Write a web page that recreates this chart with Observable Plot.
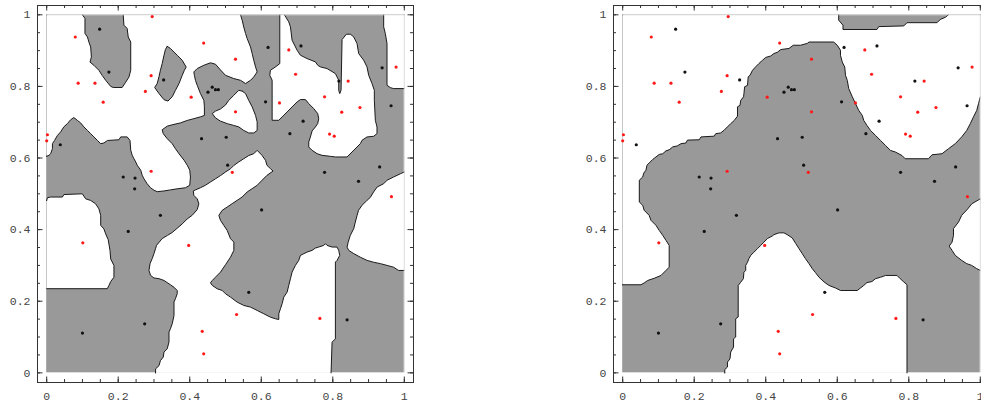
<!DOCTYPE html>
<html><head><meta charset="utf-8">
<script src="https://cdn.jsdelivr.net/npm/d3@7"></script>
<script src="https://cdn.jsdelivr.net/npm/@observablehq/plot@0.6"></script>
<style>
html,body{margin:0;padding:0;background:#fff;overflow:hidden;}
#wrap{position:relative;width:981px;height:402px;overflow:hidden;}
#wrap > div{position:absolute;top:0;width:490px;height:402px;}
#wrap svg{max-width:none !important;}
#p1{left:0;} #p2{left:576px;}
</style></head><body><div id="wrap"><div id="p1"></div><div id="p2"></div></div>
<script>
// ---- data: observations (same in both panels) ----
const blackPts = [[0.148,0.96],[0.174,0.84],[0.327,0.818],[0.463,0.798],[0.451,0.784],[0.472,0.791],[0.480,0.791],[0.038,0.637],[0.433,0.654],[0.502,0.658],[0.506,0.580],[0.214,0.547],[0.247,0.544],[0.246,0.514],[0.619,0.909],[0.711,0.913],[0.817,0.815],[0.938,0.852],[0.963,0.746],[0.612,0.757],[0.717,0.703],[0.680,0.668],[0.777,0.560],[0.931,0.575],[0.872,0.535],[0.318,0.440],[0.228,0.395],[0.274,0.137],[0.100,0.111],[0.601,0.455],[0.565,0.225],[0.840,0.148]];
const redPts = [[0.295,0.995],[0.080,0.938],[0.439,0.921],[0.292,0.830],[0.088,0.809],[0.135,0.809],[0.276,0.786],[0.404,0.770],[0.158,0.756],[0.002,0.665],[0.0,0.648],[0.292,0.563],[0.528,0.876],[0.677,0.902],[0.696,0.834],[0.843,0.815],[0.977,0.854],[0.651,0.754],[0.528,0.729],[0.777,0.771],[0.825,0.728],[0.876,0.741],[0.791,0.667],[0.804,0.661],[0.519,0.560],[0.964,0.492],[0.101,0.363],[0.397,0.356],[0.435,0.116],[0.439,0.053],[0.531,0.163],[0.764,0.152]];

// ---- ticks ----
const tickValues = [0,0.2,0.4,0.6,0.8,1];
const tickLabels = ["0","0.2","0.4","0.6","0.8","1"];
const minorTicks = [0,0.05,0.1,0.15,0.2,0.25,0.3,0.35,0.4,0.45,0.5,0.55,0.6,0.65,0.7,0.75,0.8,0.85,0.9,0.95,1];
const unit = [0,1];

// ---- left panel: white regions (drawn over a grey unit square) ----
const leftW1 = [[0,0.605],[0.0065,0.6075],[0.011,0.612],[0.016,0.626],[0.016,0.640],[0.022,0.649],[0.030,0.663],[0.039,0.673],[0.048,0.687],[0.058,0.696],[0.067,0.707],[0.076,0.713],[0.086,0.705],[0.095,0.698],[0.104,0.687],[0.114,0.677],[0.123,0.668],[0.132,0.659],[0.142,0.649],[0.151,0.640],[0.160,0.642],[0.170,0.649],[0.202,0.651],[0.207,0.659],[0.225,0.659],[0.233,0.649],[0.235,0.622],[0.239,0.608],[0.244,0.598],[0.249,0.589],[0.253,0.580],[0.263,0.566],[0.267,0.552],[0.272,0.542],[0.281,0.528],[0.2905,0.517],[0.300,0.510],[0.309,0.506],[0.328,0.508],[0.346,0.511],[0.365,0.514],[0.388,0.517],[0.400,0.524],[0.402,0.547],[0.400,0.566],[0.393,0.580],[0.384,0.594],[0.370,0.612],[0.360,0.626],[0.351,0.640],[0.337,0.654],[0.326,0.668],[0.323,0.679],[0.337,0.689],[0.356,0.694],[0.374,0.698],[0.393,0.705],[0.412,0.710],[0.430,0.715],[0.441,0.719],[0.441,0.743],[0.4395,0.761],[0.430,0.780],[0.421,0.803],[0.416,0.817],[0.413,0.831],[0.4115,0.8405],[0.421,0.850],[0.4395,0.859],[0.458,0.866],[0.472,0.862],[0.486,0.846],[0.500,0.831],[0.523,0.822],[0.542,0.817],[0.556,0.808],[0.570,0.817],[0.579,0.8265],[0.5885,0.8405],[0.584,0.8545],[0.579,0.873],[0.5745,0.892],[0.570,0.910],[0.5605,0.934],[0.556,0.948],[0.551,0.966],[0.5466,0.985],[0.542,1],[0,1]];
const leftW2 = [[0.5465,0.787],[0.556,0.780],[0.565,0.761],[0.5745,0.743],[0.584,0.719],[0.5885,0.701],[0.5885,0.677],[0.579,0.670],[0.565,0.670],[0.551,0.677],[0.537,0.687],[0.523,0.691],[0.505,0.696],[0.486,0.703],[0.472,0.712],[0.463,0.724],[0.472,0.731],[0.486,0.737],[0.500,0.748],[0.509,0.761],[0.523,0.775],[0.537,0.789]];
const leftW3 = [[0.6518,1],[0.6518,0.8637],[0.6397,0.8545],[0.6257,0.8451],[0.6238,0.8312],[0.6304,0.8172],[0.6304,0.7054],[0.6490,0.7054],[0.6583,0.7147],[0.6723,0.7287],[0.6862,0.7427],[0.7002,0.7566],[0.7095,0.7632],[0.7235,0.7632],[0.7328,0.752],[0.7467,0.738],[0.7579,0.724],[0.7607,0.7101],[0.7579,0.6961],[0.7514,0.6868],[0.7421,0.6756],[0.7374,0.6588],[0.7328,0.6448],[0.7328,0.6308],[0.7421,0.6215],[0.7561,0.6122],[0.7700,0.6075],[0.7933,0.6047],[0.8073,0.6029],[0.8399,0.6029],[0.8538,0.6168],[0.8678,0.6308],[0.8771,0.6401],[0.8818,0.6495],[0.8957,0.6588],[0.9143,0.6607],[0.9236,0.6681],[0.9236,0.6868],[0.919,0.7054],[0.9162,0.7613],[0.9162,0.7893],[0.9097,0.8079],[0.9004,0.8312],[0.8957,0.8545],[0.8864,0.8731],[0.8724,0.8918],[0.8678,0.9197],[0.8585,0.9384],[0.8492,0.9458],[0.8380,0.9458],[0.8259,0.9309],[0.8231,0.7893],[0.8194,0.7799],[0.8166,0.7893],[0.8166,0.8172],[0.8073,0.8358],[0.7840,0.8498],[0.7654,0.8545],[0.7579,0.8591],[0.7514,0.8685],[0.7281,0.8778],[0.7095,0.8871],[0.7002,0.9011],[0.6862,0.9290],[0.6816,0.9663],[0.6769,0.9803],[0.6648,1]];
const leftW4 = [[0.9423,1],[0.9423,0.9664],[0.9469,0.9477],[0.9516,0.9197],[0.9516,0.8032],[0.9609,0.7967],[0.9702,0.7939],[1,0.7939],[1,1]];
const leftW5 = [[0,0.4815],[0.002,0.489],[0.011,0.491],[0.044,0.491],[0.048,0.498],[0.0996,0.500],[0.109,0.486],[0.123,0.4815],[0.137,0.472],[0.146,0.458],[0.151,0.440],[0.151,0.412],[0.160,0.402],[0.165,0.388],[0.172,0.372],[0.177,0.342],[0.179,0.318],[0.188,0.300],[0.188,0.267],[0.179,0.255],[0.174,0.244],[0.1695,0.235],[0,0.235]];
const leftW6 = [[0.3045,0],[0.3045,0.011],[0.314,0.020],[0.318,0.034],[0.326,0.044],[0.328,0.058],[0.337,0.067],[0.342,0.086],[0.342,0.114],[0.346,0.123],[0.351,0.137],[0.356,0.160],[0.356,0.198],[0.360,0.207],[0.365,0.221],[0.365,0.230],[0.356,0.239],[0.346,0.246],[0.337,0.252],[0.328,0.258],[0.314,0.263],[0.300,0.265],[0.2905,0.272],[0.286,0.286],[0.289,0.305],[0.295,0.319],[0.300,0.333],[0.3045,0.347],[0.307,0.356],[0.323,0.375],[0.338,0.384],[0.351,0.392],[0.365,0.404],[0.379,0.416],[0.393,0.430],[0.4069,0.440],[0.421,0.456],[0.4255,0.4723],[0.421,0.486],[0.4115,0.4956],[0.410,0.508],[0.416,0.511],[0.430,0.517],[0.444,0.524],[0.458,0.533],[0.472,0.542],[0.486,0.551],[0.500,0.561],[0.514,0.570],[0.523,0.579],[0.537,0.589],[0.551,0.598],[0.565,0.607],[0.579,0.612],[0.5885,0.6215],[0.602,0.6075],[0.612,0.5935],[0.616,0.5795],[0.626,0.570],[0.633,0.5637],[0.616,0.5516],[0.602,0.5376],[0.5885,0.5237],[0.5745,0.5144],[0.5605,0.5051],[0.5466,0.4911],[0.5326,0.4818],[0.5186,0.4725],[0.5047,0.4631],[0.4907,0.4538],[0.4814,0.4398],[0.486,0.4258],[0.4953,0.4118],[0.5047,0.3978],[0.514,0.3746],[0.5233,0.3653],[0.5233,0.342],[0.514,0.323],[0.500,0.302],[0.486,0.2813],[0.472,0.2673],[0.463,0.258],[0.458,0.2515],[0.463,0.2441],[0.4767,0.2348],[0.4907,0.2301],[0.5,0.2208],[0.514,0.2115],[0.5326,0.1975],[0.5512,0.1882],[0.5698,0.1836],[0.5885,0.1743],[0.6071,0.1649],[0.6257,0.1556],[0.6397,0.1509],[0.649,0.149],[0.649,0.1649],[0.6536,0.1789],[0.6583,0.1929],[0.6629,0.2115],[0.6723,0.2255],[0.6769,0.2441],[0.6816,0.2627],[0.6862,0.2814],[0.6955,0.300],[0.7048,0.314],[0.7095,0.328],[0.7188,0.3327],[0.7281,0.3373],[0.7421,0.342],[0.7514,0.3485],[0.7607,0.3513],[0.7747,0.356],[0.7793,0.3607],[0.784,0.356],[0.798,0.3513],[0.8119,0.3513],[0.8166,0.342],[0.8194,0.328],[0.8119,0.314],[0.8073,0.3094],[0.8073,0.095],[0.798,0.0857],[0.7952,0]];
const leftW7 = [[1,0.561],[0.989,0.556],[0.970,0.547],[0.952,0.538],[0.942,0.528],[0.924,0.519],[0.914,0.505],[0.905,0.490],[0.896,0.482],[0.882,0.468],[0.872,0.454],[0.868,0.440],[0.863,0.421],[0.8585,0.4025],[0.849,0.384],[0.843,0.365],[0.840,0.351],[0.8445,0.342],[0.8585,0.333],[0.877,0.323],[0.896,0.314],[0.914,0.309],[0.933,0.305],[0.952,0.300],[0.970,0.295],[0.984,0.286],[1,0.286]];
// left panel: grey islands inside the white
const leftG1 = [[0.100,1],[0.107,0.990],[0.107,0.948],[0.114,0.938],[0.118,0.924],[0.123,0.910],[0.125,0.882],[0.121,0.868],[0.132,0.859],[0.146,0.845],[0.155,0.831],[0.165,0.817],[0.179,0.800],[0.186,0.797],[0.211,0.797],[0.221,0.812],[0.230,0.826],[0.235,0.845],[0.235,0.924],[0.228,0.938],[0.225,0.962],[0.216,0.971],[0.214,1]];
const leftG2 = [[0.337,0.912],[0.346,0.906],[0.365,0.887],[0.379,0.873],[0.390,0.854],[0.385,0.845],[0.379,0.831],[0.370,0.808],[0.360,0.789],[0.351,0.771],[0.339,0.759],[0.328,0.763],[0.314,0.780],[0.302,0.797],[0.309,0.808],[0.314,0.827],[0.318,0.845],[0.323,0.864],[0.328,0.887],[0.332,0.903]];

// ---- right panel ----
const rightW1 = [[0,0.246],[0.051,0.246],[0.060,0.251],[0.070,0.258],[0.088,0.264],[0.107,0.272],[0.121,0.286],[0.130,0.295],[0.130,0.356],[0.121,0.370],[0.112,0.384],[0.102,0.398],[0.093,0.412],[0.079,0.426],[0.074,0.440],[0.060,0.454],[0.056,0.468],[0.0465,0.477],[0.0465,0.538],[0.056,0.547],[0.059,0.558],[0.065,0.566],[0.068,0.580],[0.074,0.586],[0.084,0.596],[0.093,0.603],[0.102,0.610],[0.112,0.612],[0.121,0.620],[0.130,0.623],[0.140,0.631],[0.153,0.634],[0.163,0.640],[0.177,0.642],[0.181,0.650],[0.214,0.651],[0.219,0.659],[0.256,0.661],[0.260,0.668],[0.274,0.670],[0.284,0.678],[0.293,0.687],[0.302,0.696],[0.312,0.705],[0.321,0.717],[0.321,0.743],[0.328,0.747],[0.330,0.761],[0.338,0.771],[0.339,0.780],[0.341,0.799],[0.349,0.803],[0.351,0.827],[0.356,0.831],[0.363,0.845],[0.372,0.855],[0.381,0.864],[0.391,0.873],[0.400,0.881],[0.414,0.885],[0.423,0.892],[0.432,0.895],[0.442,0.903],[0.465,0.906],[0.477,0.915],[0.497,0.915],[0.516,0.920],[0.521,0.924],[0.590,0.924],[0.600,0.915],[0.609,0.901],[0.609,0.887],[0.614,0.868],[0.621,0.854],[0.623,0.831],[0.628,0.817],[0.632,0.794],[0.642,0.771],[0.651,0.752],[0.660,0.733],[0.670,0.719],[0.674,0.705],[0.683,0.691],[0.693,0.677],[0.707,0.663],[0.721,0.649],[0.735,0.635],[0.749,0.621],[0.762,0.617],[0.781,0.607],[0.790,0.598],[0.855,0.598],[0.865,0.609],[0.893,0.612],[0.911,0.626],[0.930,0.640],[0.948,0.659],[0.962,0.677],[0.972,0.696],[0.981,0.715],[0.990,0.733],[0.995,0.752],[1,0.7705],[1,1],[0,1]];
const rightW2 = [[1,0.486],[0.976,0.472],[0.965,0.458],[0.948,0.440],[0.939,0.421],[0.925,0.403],[0.925,0.384],[0.921,0.365],[0.913,0.354],[0.921,0.342],[0.930,0.328],[0.948,0.314],[0.962,0.305],[0.976,0.300],[0.990,0.291],[1,0.286]];
const rightW3 = [[0.2854,0],[0.2854,0.009],[0.293,0.016],[0.293,0.030],[0.300,0.039],[0.302,0.058],[0.310,0.072],[0.310,0.095],[0.316,0.100],[0.316,0.151],[0.323,0.156],[0.323,0.244],[0.330,0.253],[0.3375,0.263],[0.339,0.281],[0.344,0.286],[0.344,0.300],[0.349,0.309],[0.353,0.319],[0.358,0.328],[0.367,0.337],[0.377,0.347],[0.386,0.356],[0.395,0.365],[0.4045,0.375],[0.418,0.382],[0.423,0.386],[0.437,0.391],[0.451,0.391],[0.460,0.386],[0.474,0.377],[0.484,0.361],[0.493,0.347],[0.502,0.333],[0.511,0.319],[0.521,0.305],[0.530,0.291],[0.539,0.280],[0.549,0.267],[0.563,0.254],[0.577,0.244],[0.595,0.237],[0.609,0.230],[0.656,0.230],[0.665,0.237],[0.674,0.244],[0.683,0.252],[0.697,0.255],[0.707,0.263],[0.721,0.267],[0.730,0.270],[0.735,0.272],[0.767,0.272],[0.776,0.263],[0.786,0.254],[0.795,0.246],[0.795,0]];
const rightG1 = [[0.604,1],[0.604,0.985],[0.616,0.971],[0.616,0.959],[0.711,0.959],[0.716,0.967],[0.786,0.969],[0.795,0.978],[0.879,0.978],[0.888,0.987],[0.902,0.993],[0.911,1]];

// ---- helpers ----
const GREY = "#999999";
function fillRows(polys){ return polys.flatMap((p,k)=>p.map(([x,y])=>({x,y,k}))); }
function strokeRows(polys){
  const rows=[];
  polys.forEach((poly,k)=>{
    const ring=[...poly, poly[0]];
    for(let i=0;i<ring.length;i++){
      const p=ring[i];
      rows.push({x:p[0],y:p[1],k});
      if(i<ring.length-1){
        const q=ring[i+1];
        const onEdge = unit.some(e => (p[0]===e && q[0]===e) || (p[1]===e && q[1]===e));
        if(onEdge) rows.push({x:NaN,y:NaN,k});
      }
    }
  });
  return rows;
}

function panel(whites, greys){
  const W=490,H=402, mt=5, mb=20, ml=37, mr=W-413;
  const plotW=W-ml-mr, plotH=H-mt-mb;
  const tc="#333";
  const ticks=(vals,len)=>[
    Plot.tickX(vals,{x:d=>d, insetTop:plotH-len, stroke:tc}),
    Plot.tickX(vals,{x:d=>d, insetBottom:plotH-len, stroke:tc}),
    Plot.tickY(vals,{y:d=>d, insetRight:plotW-len, stroke:tc}),
    Plot.tickY(vals,{y:d=>d, insetLeft:plotW-len, stroke:tc})
  ];
  const fmt = d => tickLabels[tickValues.indexOf(d)];
  return Plot.plot({
    width:W, height:H, marginTop:mt, marginBottom:mb, marginLeft:ml, marginRight:mr,
    x:{domain:[-0.0257,1.0257]}, y:{domain:[-0.027,1.026]},
    style:{fontFamily:"'Liberation Mono','DejaVu Sans Mono',monospace", fontSize:"11.5px", color:"#333", background:"white", overflow:"visible", maxWidth:"none"},
    marks:[
      Plot.rect([unit],{x1:d=>d[0],x2:d=>d[1],y1:d=>d[0],y2:d=>d[1],fill:GREY}),
      Plot.line(fillRows(whites),{x:"x",y:"y",z:"k",fill:"white",stroke:"none"}),
      Plot.line(fillRows(greys),{x:"x",y:"y",z:"k",fill:GREY,stroke:"none"}),
      Plot.line(strokeRows([...whites,...greys]),{x:"x",y:"y",z:"k",stroke:"#1a1a1a",strokeWidth:1,strokeLinejoin:"round"}),
      Plot.ruleY([unit[1]],{x1:()=>unit[0],x2:()=>unit[1],stroke:"#dcdcdc"}),
      Plot.ruleX([unit[1]],{y1:()=>unit[0],y2:()=>unit[1],stroke:"#dcdcdc"}),
      Plot.dot(blackPts,{x:d=>d[0],y:d=>d[1],r:1.6,fill:"#111",stroke:"none"}),
      Plot.dot(redPts,{x:d=>d[0],y:d=>d[1],r:1.6,fill:"#ff1a1a",stroke:"none"}),
      Plot.frame({stroke:tc}),
      ...ticks(minorTicks,3),
      ...ticks(tickValues,5.5),
      Plot.axisX(tickValues,{anchor:"bottom",tickSize:0,tickPadding:9,tickFormat:fmt,fill:"#444",label:null}),
      Plot.axisY(tickValues,{anchor:"left",tickSize:0,tickPadding:7,tickFormat:fmt,fill:"#444",label:null})
    ]
  });
}

document.getElementById("p1").append(panel([leftW1,leftW2,leftW3,leftW4,leftW5,leftW6,leftW7],[leftG1,leftG2]));
document.getElementById("p2").append(panel([rightW1,rightW2,rightW3],[rightG1]));
</script></body></html>
